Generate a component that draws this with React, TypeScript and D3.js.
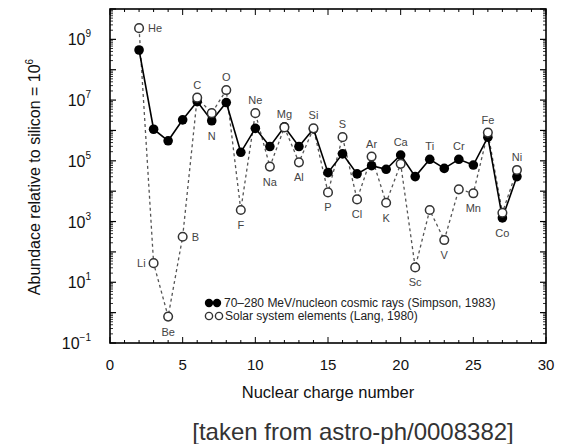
import React from "react";
import * as d3 from "d3";

const Z = [2, 3, 4, 5, 6, 7, 8, 9, 10, 11, 12, 13, 14, 15, 16, 17, 18, 19, 20, 21, 22, 23, 24, 25, 26, 27, 28];
const elements = ["He", "Li", "Be", "B", "C", "N", "O", "F", "Ne", "Na", "Mg", "Al", "Si", "P", "S", "Cl", "Ar", "K", "Ca", "Sc", "Ti", "V", "Cr", "Mn", "Fe", "Co", "Ni"];
// log10 abundances
const cosmicLog = [8.65, 6.04, 5.66, 6.35, 6.95, 6.32, 6.92, 5.28, 6.07, 5.47, 6.12, 5.47, 6.05, 4.61, 5.23, 4.57, 4.84, 4.72, 5.19, 4.48, 5.05, 4.75, 5.05, 4.86, 5.78, 3.12, 4.48];
const solarLog = [9.37, 1.63, -0.13, 2.5, 7.08, 6.57, 7.33, 3.38, 6.57, 4.81, 6.1, 4.95, 6.07, 3.96, 5.78, 3.73, 5.14, 3.62, 4.9, 1.49, 3.38, 2.39, 4.06, 3.93, 5.93, 3.29, 4.7];
const labelPos = ["right", "left", "below", "right", "above", "below", "above", "below", "above", "below", "above", "below", "above", "below", "above", "below", "above", "below", "above", "below", "above", "below", "above", "below", "above", "below", "above"];
const xTickLabels = [0, 5, 10, 15, 20, 25, 30];
const yTickExps = [-1, 1, 3, 5, 7, 9];
const legendLabels = ["70\u2013280 MeV/nucleon cosmic rays (Simpson, 1983)", "Solar system elements (Lang, 1980)"];

const FONT = "'Liberation Sans', Arial, Helvetica, sans-serif";

export default function App() {
  const L = 110, R = 546, T = 9, B = 343;
  const x = d3.scaleLinear().domain([0, 30]).range([L, R]);
  const y = d3.scaleLog().domain([1e-1, 1e10]).range([B, T]);

  const cosmic = Z.map((z, i) => ({ z, v: Math.pow(10, cosmicLog[i]) }));
  const solar = Z.map((z, i) => ({ z, v: Math.pow(10, solarLog[i]) }));
  const line = d3.line<{ z: number; v: number }>().x(d => x(d.z)).y(d => y(d.v));

  const xMinor = d3.range(0, 31, 1);
  const yMajor = d3.range(-1, 11).map(e => Math.pow(10, e));
  const yMinor: number[] = [];
  for (let e = -1; e < 10; e++) for (let m = 2; m <= 9; m++) yMinor.push(m * Math.pow(10, e));

  const ticks: JSX.Element[] = [];
  xMinor.forEach(t => {
    const len = t % 5 === 0 ? 6 : 3;
    ticks.push(<line key={"xb" + t} x1={x(t)} x2={x(t)} y1={B} y2={B - len} stroke="#000" strokeWidth={1} />);
    ticks.push(<line key={"xt" + t} x1={x(t)} x2={x(t)} y1={T} y2={T + len} stroke="#000" strokeWidth={1} />);
  });
  yMajor.forEach((t, i) => {
    ticks.push(<line key={"yl" + i} x1={L} x2={L + 6} y1={y(t)} y2={y(t)} stroke="#000" strokeWidth={1.2} />);
    ticks.push(<line key={"yr" + i} x1={R} x2={R - 6} y1={y(t)} y2={y(t)} stroke="#000" strokeWidth={1.2} />);
  });
  yMinor.forEach((t, i) => {
    ticks.push(<line key={"yml" + i} x1={L} x2={L + 3} y1={y(t)} y2={y(t)} stroke="#000" strokeWidth={0.8} />);
    ticks.push(<line key={"ymr" + i} x1={R} x2={R - 3} y1={y(t)} y2={y(t)} stroke="#000" strokeWidth={0.8} />);
  });

  const labels = Z.map((z, i) => {
    const yc = y(cosmic[i].v), ys = y(solar[i].v);
    const px = x(z);
    const pos = labelPos[i];
    let tx = px, ty = ys, anchor = "middle";
    if (pos === "above") ty = Math.min(yc, ys) - 9;
    else if (pos === "below") ty = Math.max(yc, ys) + 19;
    else if (pos === "right") { tx = px + 9; ty = ys + 4; anchor = "start"; }
    else if (pos === "left") { tx = px - 8; ty = ys + 4; anchor = "end"; }
    return (
      <text key={"lab" + z} x={tx} y={ty} textAnchor={anchor} fontSize={11} fill="#444" fontFamily={FONT}>
        {elements[i]}
      </text>
    );
  });

  return (
    <svg width={563} height={444} style={{ display: "block", position: "absolute", left: 0, top: 0, background: "#fff" }}>
      <rect x={0} y={0} width={563} height={444} fill="#fff" />
      {ticks}
      <path d={line(solar) || ""} fill="none" stroke="#555" strokeWidth={1.3} strokeDasharray="3,3" />
      <path d={line(cosmic) || ""} fill="none" stroke="#000" strokeWidth={1.6} />
      {cosmic.map(d => (
        <circle key={"c" + d.z} cx={x(d.z)} cy={y(d.v)} r={4.8} fill="#000" />
      ))}
      {solar.map(d => (
        <circle key={"s" + d.z} cx={x(d.z)} cy={y(d.v)} r={4.3} fill="#fff" stroke="#333" strokeWidth={1.5} />
      ))}
      {labels}
      <rect x={L} y={T} width={R - L} height={B - T} fill="none" stroke="#000" strokeWidth={1.6} />

      {/* legend */}
      <circle cx={209} cy={303} r={4.2} fill="#000" />
      <circle cx={217} cy={303} r={4.2} fill="#000" />
      <text x={224} y={307} fontSize={12} fill="#222" fontFamily={FONT}>{legendLabels[0]}</text>
      <circle cx={209} cy={316} r={3.6} fill="#fff" stroke="#333" strokeWidth={1.4} />
      <circle cx={219} cy={316} r={3.6} fill="#fff" stroke="#333" strokeWidth={1.4} />
      <text x={225} y={320} fontSize={12} fill="#222" fontFamily={FONT}>{legendLabels[1]}</text>

      {/* x tick labels */}
      {xTickLabels.map(t => (
        <text key={"xl" + t} x={x(t)} y={370} textAnchor="middle" fontSize={15} fill="#111" fontFamily={FONT}>{t}</text>
      ))}
      {/* y tick labels */}
      {yTickExps.map(e => (
        <text key={"yl" + e} x={91} y={y(Math.pow(10, e)) + 6} textAnchor="end" fontSize={16} fill="#111" fontFamily={FONT}>
          10<tspan dy={-8} fontSize={10}>{e < 0 ? "\u22121" : String(e)}</tspan>
        </text>
      ))}
      <text x={328} y={398} textAnchor="middle" fontSize={16.5} fill="#111" fontFamily={FONT}>Nuclear charge number</text>
      <text transform="translate(40,177) rotate(-90)" textAnchor="middle" fontSize={16} fill="#111" fontFamily={FONT}>
        Abundace relative to silicon = 10<tspan dy={-7} fontSize={10}>6</tspan>
      </text>
      <text x={353} y={440} textAnchor="middle" fontSize={24} fill="#333" fontFamily={FONT}>[taken from astro-ph/0008382]</text>
    </svg>
  );
}
